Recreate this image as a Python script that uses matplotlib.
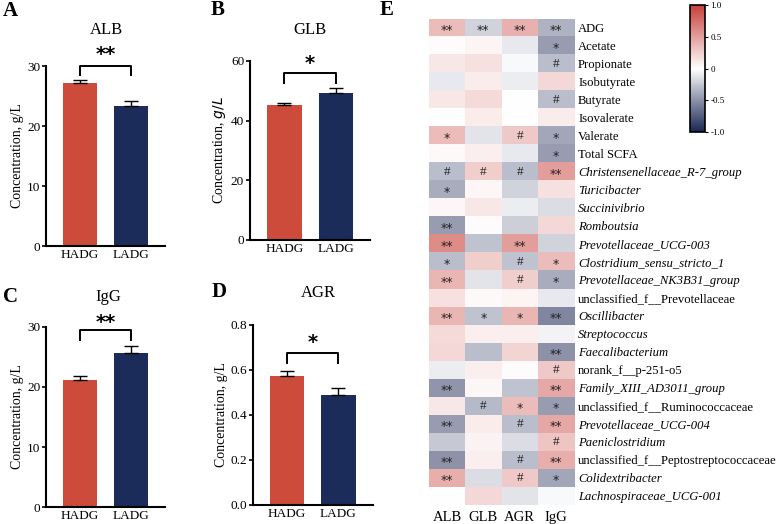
import numpy as np
import matplotlib.pyplot as plt
from matplotlib.colors import LinearSegmentedColormap

plt.rcParams['font.family'] = ['Liberation Serif', 'DejaVu Serif']

# ---- bar panel data ----
groups = ["HADG", "LADG"]
alb_mean, alb_err = [27.1, 23.3], [0.6, 0.9]
glb_mean, glb_err = [45.2, 49.3], [0.7, 1.5]
igg_mean, igg_err = [21.1, 25.6], [0.7, 1.2]
agr_mean, agr_err = [0.573, 0.490], [0.020, 0.030]

# ---- heatmap data ----
hm_cols = ["ALB", "GLB", "AGR", "IgG"]
hm_rows = ["ADG", "Acetate", "Propionate", "Isobutyrate", "Butyrate", "Isovalerate",
           "Valerate", "Total SCFA", "Christensenellaceae_R-7_group", "Turicibacter",
           "Succinivibrio", "Romboutsia", "Prevotellaceae_UCG-003",
           "Clostridium_sensu_stricto_1", "Prevotellaceae_NK3B31_group",
           "unclassified_f__Prevotellaceae", "Oscillibacter", "Streptococcus",
           "Faecalibacterium", "norank_f__p-251-o5", "Family_XIII_AD3011_group",
           "unclassified_f__Ruminococcaceae", "Prevotellaceae_UCG-004",
           "Paeniclostridium", "unclassified_f__Peptostreptococcaceae",
           "Colidextribacter", "Lachnospiraceae_UCG-001"]
upright = {"ADG", "Acetate", "Propionate", "Isobutyrate", "Butyrate", "Isovalerate",
           "Valerate", "Total SCFA", "unclassified_f__Prevotellaceae",
           "norank_f__p-251-o5", "unclassified_f__Ruminococcaceae",
           "unclassified_f__Peptostreptococcaceae"}
hm_vals = [
    [0.35, -0.20, 0.40, -0.35],
    [0.02, 0.05, -0.10, -0.45],
    [0.12, 0.15, -0.03, -0.30],
    [-0.10, 0.10, -0.08, 0.20],
    [0.12, 0.18, 0.00, -0.30],
    [0.00, 0.10, 0.00, 0.10],
    [0.35, -0.12, 0.28, -0.40],
    [0.03, 0.08, -0.10, -0.45],
    [-0.30, 0.25, -0.30, 0.50],
    [-0.38, 0.04, -0.20, 0.15],
    [0.04, 0.12, -0.08, -0.15],
    [-0.45, 0.02, -0.22, 0.20],
    [0.60, -0.28, 0.50, -0.20],
    [-0.30, 0.25, -0.28, 0.35],
    [0.38, -0.12, 0.25, -0.38],
    [0.15, 0.03, 0.05, -0.10],
    [0.38, -0.28, 0.38, -0.55],
    [0.18, 0.08, 0.08, -0.05],
    [0.20, -0.30, 0.22, -0.50],
    [-0.08, 0.08, 0.02, 0.28],
    [-0.48, 0.04, -0.28, 0.45],
    [0.12, -0.32, 0.35, -0.45],
    [-0.45, 0.10, -0.30, 0.45],
    [-0.25, 0.06, -0.15, 0.30],
    [-0.50, 0.08, -0.30, 0.42],
    [0.42, -0.15, 0.28, -0.40],
    [0.00, 0.20, -0.12, -0.03],
]
hm_sig = [
    ["**", "**", "**", "**"],
    ["", "", "", "*"],
    ["", "", "", "#"],
    ["", "", "", ""],
    ["", "", "", "#"],
    ["", "", "", ""],
    ["*", "", "#", "*"],
    ["", "", "", "*"],
    ["#", "#", "#", "**"],
    ["*", "", "", ""],
    ["", "", "", ""],
    ["**", "", "", ""],
    ["**", "", "**", ""],
    ["*", "", "#", "*"],
    ["**", "", "#", "*"],
    ["", "", "", ""],
    ["**", "*", "*", "**"],
    ["", "", "", ""],
    ["", "", "", "**"],
    ["", "", "", "#"],
    ["**", "", "", "**"],
    ["", "#", "*", "*"],
    ["**", "", "#", "**"],
    ["", "", "", "#"],
    ["**", "", "#", "**"],
    ["**", "", "#", "*"],
    ["", "", "", ""],
]

RED = "#cc4b3b"
NAVY = "#1b2b5a"
W, H = 778, 524

fig = plt.figure(figsize=(7.78, 5.24), dpi=100)


def px(x, y):
    # pixel position (from top-left) -> figure fraction
    return x / W, 1 - y / H


def bar_panel(rect, means, errs, title, title_xy, letter, letter_xy, ymax, ystep, fmt,
              br_y, br_leg, star_y, stars, italic_unit=False):
    ax = fig.add_axes(rect)
    x = np.arange(len(groups))
    ax.bar(x, means, width=0.67, color=[RED, NAVY], zorder=2)
    for xi, m, e in zip(x, means, errs):
        ax.errorbar(xi, m, yerr=[[0], [e]], color="black", capsize=5, elinewidth=1.0,
                    capthick=1.0, zorder=3)
    ax.set_xlim(-0.67, 1.67)
    ax.set_ylim(0, ymax)
    ticks = np.arange(0, ymax + ystep / 2, ystep)
    ax.set_yticks(ticks)
    ax.set_yticklabels([fmt.format(v) for v in ticks])
    ax.set_xticks(x)
    ax.set_xticklabels(groups)
    ax.tick_params(axis="x", length=0, labelsize=9.5, pad=2)
    ax.tick_params(axis="y", length=3, width=1.2, labelsize=9.5, pad=1)
    for s in ["top", "right"]:
        ax.spines[s].set_visible(False)
    for s in ["left", "bottom"]:
        ax.spines[s].set_linewidth(1.5)
    unit = "$\\it{g/L}$" if italic_unit else "g/L"
    ax.set_ylabel("Concentration, " + unit, fontsize=10, labelpad=2)
    # significance bracket
    ax.plot([0, 0, 1, 1], [br_leg, br_y, br_y, br_leg], color="black", lw=1.4,
            clip_on=False)
    ax.text(0.5, star_y, stars, ha="center", va="center", fontsize=14,
            fontweight="bold", family="DejaVu Sans", clip_on=False)
    fig.text(*px(*title_xy), title, fontsize=12, ha="center", va="center")
    fig.text(*px(*letter_xy), letter, fontsize=15, fontweight="bold",
             ha="left", va="center")
    return ax


bar_panel([0.0591, 0.5305, 0.153, 0.3435], alb_mean, alb_err, "ALB", (106, 30),
          "A", (3, 11), 30, 10, "{:.0f}", 30.0, 28.5, 31.9, "**")
bar_panel([0.321, 0.542, 0.155, 0.3416], glb_mean, glb_err, "GLB", (310, 30),
          "B", (211, 10), 60, 20, "{:.0f}", 56.0, 52.6, 59.0, "*", italic_unit=True)
bar_panel([0.0591, 0.0324, 0.153, 0.3436], igg_mean, igg_err, "IgG", (108, 297),
          "C", (3, 297), 30, 10, "{:.0f}", 29.5, 27.8, 30.7, "**")
bar_panel([0.325, 0.0363, 0.154, 0.3437], agr_mean, agr_err, "AGR", (318, 293),
          "D", (212, 292), 0.8, 0.2, "{:.1f}", 0.676, 0.631, 0.720, "*")

# ---- heatmap ----
cmap = LinearSegmentedColormap.from_list("rb", ["#1b2553", "#ffffff", "#c8403a"])
hax = fig.add_axes([0.5514, 0.0363, 0.1864, 0.9275])
data = np.array(hm_vals)
im = hax.imshow(data, cmap=cmap, vmin=-1, vmax=1, aspect="auto")
for i, row in enumerate(hm_sig):
    for j, s in enumerate(row):
        if s:
            star = "*" in s
            hax.text(j, i + (0.14 if star else 0.02), s, ha="center", va="center",
                     fontsize=9 if star else 9.5, color="#222222",
                     family="DejaVu Sans" if star else "Liberation Serif")
hax.set_xticks(range(len(hm_cols)))
hax.set_xticklabels(hm_cols, fontsize=10.5)
hax.set_yticks(range(len(hm_rows)))
hax.set_yticklabels(hm_rows, fontsize=9.1)
hax.yaxis.tick_right()
hax.tick_params(length=0, pad=3)
hax.tick_params(axis="x", pad=4)
for tick, name in zip(hax.yaxis.get_major_ticks(), hm_rows):
    if name not in upright:
        tick.label1.set_fontstyle("italic")
        tick.label2.set_fontstyle("italic")
for s in hax.spines.values():
    s.set_visible(False)
fig.text(*px(380, 10), "E", fontsize=15, fontweight="bold", ha="left", va="center")

# ---- colorbar ----
cax = fig.add_axes([0.887, 0.748, 0.0193, 0.242])
cb = fig.colorbar(im, cax=cax, ticks=[-1, -0.5, 0, 0.5, 1])
cb.ax.set_yticklabels(["-1.0", "-0.5", "0", "0.5", "1.0"])
cb.ax.tick_params(labelsize=6.5, length=2, width=0.8, pad=2)
cb.outline.set_linewidth(1.2)

fig.savefig("out.png", dpi=100)
